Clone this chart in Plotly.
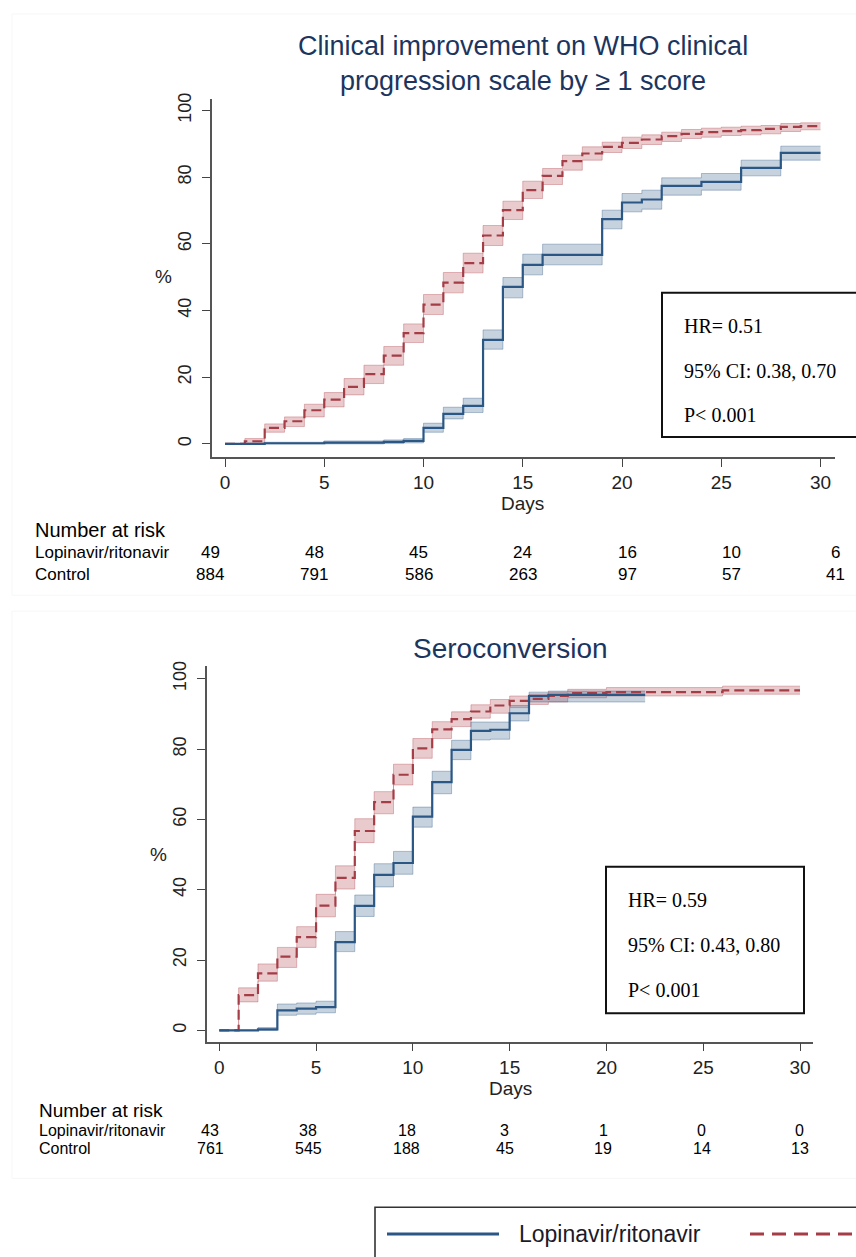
import plotly.graph_objects as go

W, H = 856, 1257

def px(x):
    return x / W

def py(y):
    return 1 - y / H

# ---------------- DATA ----------------
day_ticks = [0, 5, 10, 15, 20, 25, 30]
pct_ticks = [0, 20, 40, 60, 80, 100]

# Panel 1: Clinical improvement
p1_ctrl_days = list(range(0, 31))
p1_ctrl = [0, 0.8, 4.8, 6.8, 10.1, 13.3, 17.1, 20.9, 26.5, 33.2, 41.8, 48.4, 54.2, 62.5, 70.1, 76.1,
           80.4, 84.8, 87.1, 89.1, 90.3, 91.3, 92.3, 93.0, 93.5, 93.8, 94.1, 94.5, 95.1, 95.3, 95.3]
p1_ctrl_lo = [0, 0.2, 3.5, 5.2, 8.1, 11.1, 14.7, 18.1, 23.6, 30.4, 38.8, 45.3, 51.3, 59.5, 67.3, 73.6,
              77.8, 82.1, 85.1, 87.4, 88.6, 89.8, 90.7, 91.6, 92.0, 92.5, 92.7, 93.0, 93.7, 94.2, 94.2]
p1_ctrl_hi = [0, 1.6, 6.0, 8.1, 11.9, 15.4, 19.6, 23.6, 29.2, 36.0, 44.8, 51.4, 57.2, 65.5, 72.8, 78.8,
              82.6, 86.6, 89.1, 90.5, 92.0, 92.7, 93.5, 94.3, 94.7, 95.0, 95.3, 95.5, 96.1, 96.3, 96.3]

p1_lpv_days = [0, 2, 5, 8, 9, 10, 11, 12, 13, 14, 15, 16, 19, 20, 21, 22, 24, 26, 28, 30]
p1_lpv = [0, 0.2, 0.4, 0.6, 0.9, 4.8, 9.0, 11.4, 31.2, 47.1, 53.7, 56.7, 67.4, 72.4, 73.3, 77.4, 78.6, 82.8, 87.3, 87.3]
p1_lpv_lo = [0, 0, 0, 0.1, 0.3, 3.5, 7.5, 9.4, 28.4, 43.8, 50.7, 53.7, 64.5, 69.6, 70.4, 74.6, 76.1, 80.4, 85.1, 85.1]
p1_lpv_hi = [0, 0.5, 0.9, 1.2, 1.6, 6.2, 11.0, 13.7, 34.2, 49.9, 56.9, 59.9, 70.1, 75.1, 76.1, 79.8, 81.1, 85.1, 89.3, 89.3]

p1_risk_lpv = ["49", "48", "45", "24", "16", "10", "6"]
p1_risk_ctrl = ["884", "791", "586", "263", "97", "57", "41"]

# Panel 2: Seroconversion
p2_ctrl_days = [0, 1, 2, 3, 4, 5, 6, 7, 8, 9, 10, 11, 12, 13, 14, 15, 16, 17, 18, 20, 26, 30]
p2_ctrl = [0, 10.0, 16.2, 21.0, 26.5, 35.5, 43.4, 56.7, 64.9, 72.7, 80.2, 85.6, 88.5, 90.7, 92.4, 93.7,
           94.3, 95.1, 95.9, 96.2, 96.7, 96.7]
p2_ctrl_lo = [0, 8.1, 14.0, 17.9, 23.6, 32.3, 40.2, 53.4, 61.6, 69.8, 77.4, 83.0, 86.4, 88.8, 90.2, 91.8,
              92.7, 93.4, 94.6, 95.1, 95.6, 95.6]
p2_ctrl_hi = [0, 12.1, 18.9, 23.6, 29.5, 38.7, 46.8, 60.2, 67.9, 75.7, 83.0, 87.8, 90.6, 92.6, 94.1, 95.1,
              95.6, 96.2, 97.0, 97.5, 97.9, 97.9]

p2_lpv_days = [0, 2, 3, 4, 5, 6, 7, 8, 9, 10, 11, 12, 13, 14, 15, 16, 17, 22]
p2_lpv = [0, 0.3, 5.7, 6.2, 6.6, 25.1, 35.4, 44.2, 47.6, 60.8, 70.6, 79.8, 85.2, 85.5, 90.2, 95.1, 95.4, 95.4]
p2_lpv_lo = [0, 0, 4.3, 4.6, 5.0, 22.4, 32.4, 40.8, 44.4, 57.8, 67.3, 77.0, 82.6, 82.8, 88.0, 93.4, 93.4, 93.4]
p2_lpv_hi = [0, 0.8, 7.5, 7.8, 8.3, 28.1, 38.5, 47.4, 50.9, 63.5, 73.7, 82.5, 87.7, 87.7, 92.4, 96.2, 96.5, 96.5]

p2_risk_lpv = ["43", "38", "18", "3", "1", "0", "0"]
p2_risk_ctrl = ["761", "545", "188", "45", "19", "14", "13"]

titles = ["Clinical improvement on WHO clinical<br>progression scale by \u2265 1 score", "Seroconversion"]
stats1 = ["HR= 0.51", "95% CI: 0.38, 0.70", "P< 0.001"]
stats2 = ["HR= 0.59", "95% CI: 0.43, 0.80", "P< 0.001"]
group_names = ["Lopinavir/ritonavir", "Control"]

# ---------------- STYLE ----------------
BLUE = "#2b5785"
RED = "#a53d47"
BLUE_FILL = "rgba(43,87,133,0.27)"
BLUE_EDGE = "rgba(43,87,133,0.35)"
RED_FILL = "rgba(170,55,65,0.26)"
RED_EDGE = "rgba(170,55,65,0.33)"
TITLE_C = "#1c355e"
TXT = "#222222"
SANS = "Liberation Sans, Arial, sans-serif"
SERIF = "Liberation Serif, Times New Roman, serif"

fig = go.Figure()


def add_band(days, lo, hi, fill, edge, xa, ya):
    fig.add_trace(go.Scatter(x=days, y=lo, mode="lines", line=dict(shape="hv", color=edge, width=1),
                             xaxis=xa, yaxis=ya, showlegend=False, hoverinfo="skip"))
    fig.add_trace(go.Scatter(x=days, y=hi, mode="lines", line=dict(shape="hv", color=edge, width=1),
                             fill="tonexty", fillcolor=fill,
                             xaxis=xa, yaxis=ya, showlegend=False, hoverinfo="skip"))


def add_line(days, vals, color, dash, xa, ya, name):
    fig.add_trace(go.Scatter(x=days, y=vals, mode="lines", name=name,
                             line=dict(shape="hv", color=color, width=2.2, dash=dash),
                             xaxis=xa, yaxis=ya, showlegend=False))


# panel 1
add_band(p1_ctrl_days, p1_ctrl_lo, p1_ctrl_hi, RED_FILL, RED_EDGE, "x", "y")
add_band(p1_lpv_days, p1_lpv_lo, p1_lpv_hi, BLUE_FILL, BLUE_EDGE, "x", "y")
add_line(p1_ctrl_days, p1_ctrl, RED, "10px,5px", "x", "y", group_names[1])
add_line(p1_lpv_days, p1_lpv, BLUE, "solid", "x", "y", group_names[0])

# panel 2
add_band(p2_ctrl_days, p2_ctrl_lo, p2_ctrl_hi, RED_FILL, RED_EDGE, "x2", "y2")
add_band(p2_lpv_days, p2_lpv_lo, p2_lpv_hi, BLUE_FILL, BLUE_EDGE, "x2", "y2")
add_line(p2_ctrl_days, p2_ctrl, RED, "10px,5px", "x2", "y2", group_names[1])
add_line(p2_lpv_days, p2_lpv, BLUE, "solid", "x2", "y2", group_names[0])


def xax(domain, rng, anchor):
    return dict(domain=domain, range=rng, anchor=anchor, tickvals=day_ticks, ticks="outside", ticklen=8,
                tickwidth=1.3, tickcolor="#444", showline=True, linecolor="#555", linewidth=1.5,
                showgrid=False, zeroline=False, tickfont=dict(family=SANS, size=19, color=TXT), fixedrange=True)


def yax(domain, rng, anchor):
    return dict(domain=domain, range=rng, anchor=anchor, tickvals=pct_ticks, ticks="outside", ticklen=8,
                tickwidth=1.3, tickcolor="#444", showline=True, linecolor="#555", linewidth=1.5,
                showgrid=False, zeroline=False, tickangle=-90, ticklabelstandoff=4,
                tickfont=dict(family=SANS, size=18, color=TXT), fixedrange=True)


fig.update_layout(
    width=W, height=H, margin=dict(l=0, r=0, t=0, b=0),
    paper_bgcolor="white", plot_bgcolor="white", showlegend=False,
    xaxis=xax([px(212), px(835)], [-0.655, 30.73], "y"),
    yaxis=yax([py(453), py(93)], [-3.88, 103.58], "x"),
    xaxis2=xax([px(206.7), px(813)], [-0.65, 30.67], "y2"),
    yaxis2=yax([py(1040.7), py(663)], [-3.23, 103.68], "x2"),
)

ann = []


def text(x, y, s, size, color=TXT, family=SANS, xanchor="center"):
    ann.append(dict(x=px(x), y=py(y), xref="paper", yref="paper", text=s, showarrow=False,
                    xanchor=xanchor, yanchor="middle", font=dict(family=family, size=size, color=color)))


# titles
text(523, 58, titles[0], 27, TITLE_C)
text(510, 646, titles[1], 28, TITLE_C)

# axis titles
text(522, 500, "Days", 19)
text(510, 1088, "Days", 19)
text(163, 272, "%", 19)
text(158, 853, "%", 19)

# stats boxes
for i, s in enumerate(stats1):
    text(682, 322 + i * 44.5, s, 20, "#000", SERIF, "left")
for i, s in enumerate(stats2):
    text(626, 898 + i * 45.5, s, 20, "#000", SERIF, "left")

# number at risk tables
text(33, 527, "Number at risk", 20, "#000", SANS, "left")
text(33, 549, group_names[0], 17, "#000", SANS, "left")
text(33, 571, group_names[1], 17, "#000", SANS, "left")
for i in range(len(day_ticks)):
    text(210 + i * 104.3, 549, p1_risk_lpv[i], 17, "#000")
    text(210 + i * 104.3, 571, p1_risk_ctrl[i], 17, "#000")

text(37, 1110, "Number at risk", 19, "#000", SANS, "left")
text(37, 1130, group_names[0], 16, "#000", SANS, "left")
text(37, 1148, group_names[1], 16, "#000", SANS, "left")
for i in range(len(day_ticks)):
    text(210 + i * 98.3, 1130, p2_risk_lpv[i], 16, "#000")
    text(210 + i * 98.3, 1148, p2_risk_ctrl[i], 16, "#000")

# legend text
text(517, 1234, group_names[0], 23, "#1a1a2a", SANS, "left")

fig.update_layout(annotations=ann)

shapes = []


def rect(x0, y0, x1, y1, color, width):
    shapes.append(dict(type="rect", xref="paper", yref="paper", x0=px(x0), x1=px(x1), y0=py(y1), y1=py(y0),
                       line=dict(color=color, width=width), fillcolor="rgba(0,0,0,0)", layer="above"))


def hline(x0, x1, y, color, width, dash="solid"):
    shapes.append(dict(type="line", xref="paper", yref="paper", x0=px(x0), x1=px(x1), y0=py(y), y1=py(y),
                       line=dict(color=color, width=width, dash=dash)))


# faint panel frames
rect(12, 8, 870, 592, "#f5f7f7", 1)
rect(12, 608, 870, 1178, "#f5f7f7", 1)
# stats boxes
rect(662, 288, 875, 433, "#111", 2)
rect(606, 865, 804, 1012, "#111", 2)
# legend box & keys
rect(375, 1207, 900, 1300, "#333", 1.6)
hline(387, 499, 1234, BLUE, 3)
hline(750, 870, 1234, RED, 3, "14px,8px")

fig.update_layout(shapes=shapes)

fig.write_html(
    "out.html",
    config={"displayModeBar": False},
    post_script="document.body.style.margin='0px';document.body.style.overflow='hidden';"
                "document.documentElement.style.overflow='hidden';",
)
